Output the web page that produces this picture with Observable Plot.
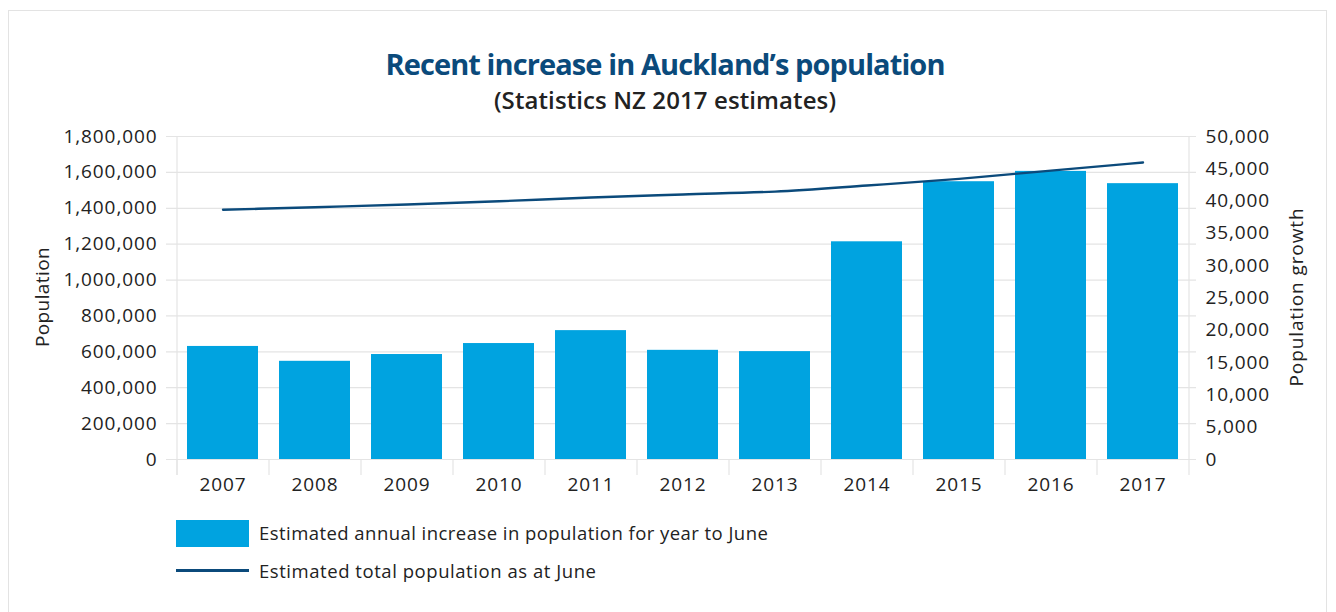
<!DOCTYPE html>
<html>
<head>
<meta charset="utf-8">
<script src="https://cdn.jsdelivr.net/npm/d3@7"></script>
<script src="https://cdn.jsdelivr.net/npm/@observablehq/plot@0.6"></script>
<style>
  html, body { margin: 0; padding: 0; background: #fff; }
  body { width: 1336px; height: 612px; position: relative; overflow: hidden; font-family: "Open Sans", sans-serif; color: #222; }
  #card { position: absolute; left: 8px; top: 10px; width: 1319px; height: 640px; border: 1px solid #e3e3e3; box-sizing: border-box; }
  #title { position: absolute; top: 44px; left: 0; width: 1330px; text-align: center; font-size: 29px; font-weight: 700; color: #0b4a7b; letter-spacing: -0.9px; }
  #subtitle { position: absolute; top: 83px; left: 0; width: 1330px; text-align: center; font-size: 24px; font-weight: 600; color: #222; letter-spacing: 0.1px; }
  #chart { position: absolute; left: 0; top: 120px; }
  .ylab { position: absolute; font-size: 19px; color: #222; white-space: nowrap; transform: translate(-50%, -50%) rotate(-90deg); }
  .leg { position: absolute; left: 259px; font-size: 18.5px; color: #222; white-space: nowrap; letter-spacing: 0.45px; }
  #sw1 { position: absolute; left: 176px; top: 520px; width: 73px; height: 27px; background: #00a3e0; }
  #sw2 { position: absolute; left: 176px; top: 569px; width: 73px; height: 3px; background: #0b4a7b; }
  #chart text { letter-spacing: 0.9px; }
</style>
</head>
<body>
<div id="card"></div>
<div id="title">Recent increase in Auckland’s population</div>
<div id="subtitle">(Statistics NZ 2017 estimates)</div>
<div id="chart"></div>
<div class="ylab" style="left:42px; top:297px; letter-spacing:0.4px;">Population</div>
<div class="ylab" style="left:1296px; top:297px; letter-spacing:0.9px;">Population growth</div>
<div id="sw1"></div>
<div class="leg" style="top:520px;">Estimated annual increase in population for year to June</div>
<div id="sw2"></div>
<div class="leg" style="top:558px; letter-spacing:0.55px;">Estimated total population as at June</div>
<script>
const years = ["2007","2008","2009","2010","2011","2012","2013","2014","2015","2016","2017"];
const growth = [17500, 15200, 16250, 17950, 19950, 16900, 16700, 33700, 43000, 44600, 42700];
const population = [1391500, 1406000, 1421000, 1439000, 1460000, 1477000, 1493000, 1527000, 1564000, 1610000, 1655000];
const leftTicks = [0, 200000, 400000, 600000, 800000, 1000000, 1200000, 1400000, 1600000, 1800000];
const rightTicks = [0, 5000, 10000, 15000, 20000, 25000, 30000, 35000, 40000, 45000, 50000];

const leftMax = 1800000, rightMax = 50000;
const ratio = leftMax / rightMax;
const rows = years.map((y, i) => ({year: y, growth: growth[i], population: population[i]}));

const width = 1336, marginLeft = 176, marginRight = 148;
const step = (width - marginLeft - marginRight) / years.length;
const fmt = d3.format(",");
const tickDrop = leftMax * 16 / 323;

const chart = Plot.plot({
  width, height: 379,
  marginLeft, marginRight, marginTop: 16, marginBottom: 40,
  style: {fontFamily: "Open Sans, sans-serif", fontSize: "19px", color: "#222", background: "transparent"},
  x: {type: "band", domain: years, paddingInner: 0.23, paddingOuter: 0.115},
  y: {domain: [0, leftMax]},
  marks: [
    Plot.ruleY(leftTicks, {stroke: "#e4e4e4", strokeWidth: 1.2, insetLeft: -10, insetRight: -8}),
    Plot.ruleX(years, {x: d => d, dx: -step / 2, y1: 0, y2: -tickDrop, stroke: "#e4e4e4", strokeWidth: 1.2}),
    Plot.ruleX([years[0]], {x: d => d, dx: -step / 2, y1: -tickDrop, y2: leftMax, stroke: "#e4e4e4", strokeWidth: 1.2}),
    Plot.ruleX([years[years.length - 1]], {x: d => d, dx: step / 2, y1: -tickDrop, y2: leftMax, stroke: "#e4e4e4", strokeWidth: 1.2}),
    Plot.barY(rows, {x: "year", y: d => d.growth * ratio, fill: "#00a3e0"}),
    Plot.line(rows, {x: "year", y: "population", stroke: "#0b4a7b", strokeWidth: 2.4, curve: "monotone-x"}),
    Plot.axisY(leftTicks, {anchor: "left", tickSize: 0, tickPadding: 19, tickFormat: fmt, label: null, fill: "#222"}),
    Plot.axisY(rightTicks.map(v => v * ratio), {anchor: "right", tickSize: 0, tickPadding: 17, tickFormat: d => fmt(Math.round(d / ratio)), label: null, fill: "#222"}),
    Plot.axisX({tickSize: 0, tickPadding: 18, label: null, fill: "#222"})
  ]
});
document.getElementById("chart").appendChild(chart);
</script>
</body>
</html>
